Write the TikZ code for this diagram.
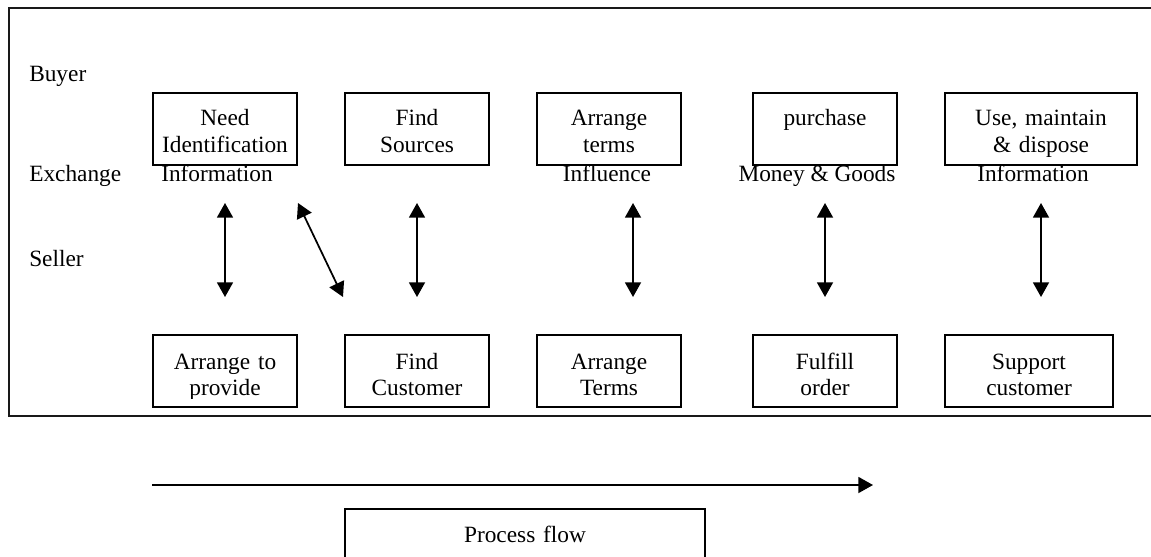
\documentclass[tikz,border=0pt]{standalone}
\usepackage{fontspec}
\setmainfont{Liberation Serif}
\usetikzlibrary{arrows.meta}
\begin{document}
\begin{tikzpicture}[x=0.75pt,y=-0.75pt,
  every node/.style={font=\fontsize{17.5}{19.8}\selectfont},
  box/.style={draw, line width=1.2pt, minimum height=54pt, inner sep=0pt},
  btext/.style={text width=#1, align=center, anchor=base, inner sep=0pt},
  lbl/.style={anchor=base west, inner sep=0pt},
  clbl/.style={anchor=base, inner sep=0pt},
  dbl/.style={line width=1.3pt, {Triangle[width=12pt,length=11pt]}-{Triangle[width=12pt,length=11pt]}},
  flow/.style={line width=1.3pt, -{Triangle[width=12pt,length=11pt]}},
  frame/.style={draw=black!90, line width=1.6pt}
]
\useasboundingbox (0,0) rectangle (1151,556);
\clip (0,0) rectangle (1151,556);

% outer frame
\draw[frame] (9,8) rectangle (1175,416);

% side labels
\node[lbl] (buyer) at (29,82) {Buyer};
\node[lbl] (exch) at (29,181) {Exchange};
\node[lbl] (seller) at (29,266) {Seller};

% buyer boxes
\node[box, minimum width=108pt] (b1) at (225,129) {};
\node[box, minimum width=108pt] (b2) at (417,129) {};
\node[box, minimum width=108pt] (b3) at (609,129) {};
\node[box, minimum width=108pt] (b4) at (825,129) {};
\node[box, minimum width=144pt] (b5) at (1041,129) {};
\node[btext=108pt] (b1t) at (225,126) {Need\\Identification};
\node[btext=108pt] (b2t) at (417,126) {Find\\Sources};
\node[btext=108pt] (b3t) at (609,126) {Arrange\\terms};
\node[btext=108pt] (b4t) at (825,126) {purchase};
\begin{scope}
  \clip (945,93) rectangle (1137,158);
  \node[btext=144pt] (b5t) at (1041,126) {Use, maintain\\\& dispose};
\end{scope}

% exchange labels
\node[clbl] (x1) at (217,181) {Information};
\node[clbl] (x3) at (607,181) {Influence};
\node[clbl] (x4) at (817,181) {Money \& Goods};
\node[clbl] (x5) at (1033,181) {Information};

% seller boxes
\node[box, minimum width=108pt] (s1) at (225,371) {};
\node[box, minimum width=108pt] (s2) at (417,371) {};
\node[box, minimum width=108pt] (s3) at (609,371) {};
\node[box, minimum width=108pt] (s4) at (825,371) {};
\node[box, minimum width=126pt] (s5) at (1029,371) {};
\begin{scope}
  \clip (153,335) rectangle (297,398);
  \node[btext=108pt] (s1t) at (225,369) {Arrange to\\provide};
\end{scope}
\node[btext=108pt] (s2t) at (417,369) {Find\\Customer};
\node[btext=108pt] (s3t) at (609,369) {Arrange\\Terms};
\node[btext=108pt] (s4t) at (825,369) {Fulfill\\order};
\node[btext=126pt] (s5t) at (1029,369) {Support\\customer};

% exchange arrows
\coordinate (a1t) at (225,203); \coordinate (a1b) at (225,297);
\coordinate (dt)  at (298,203); \coordinate (db)  at (343,297);
\coordinate (a2t) at (417,203); \coordinate (a2b) at (417,297);
\coordinate (a3t) at (633,203); \coordinate (a3b) at (633,297);
\coordinate (a4t) at (825,203); \coordinate (a4b) at (825,297);
\coordinate (a5t) at (1041,203); \coordinate (a5b) at (1041,297);
\draw[dbl] (a1t) -- (a1b);
\draw[dbl] (dt) -- (db);
\draw[dbl] (a2t) -- (a2b);
\draw[dbl] (a3t) -- (a3b);
\draw[dbl] (a4t) -- (a4b);
\draw[dbl] (a5t) -- (a5b);

% process flow
\coordinate (fs) at (152,485);
\coordinate (fe) at (873,485);
\draw[flow] (fs) -- (fe);
\node[box, minimum width=270pt] (pf) at (525,545) {};
\node[btext=270pt] (pft) at (525,542) {Process flow};
\end{tikzpicture}
\end{document}
